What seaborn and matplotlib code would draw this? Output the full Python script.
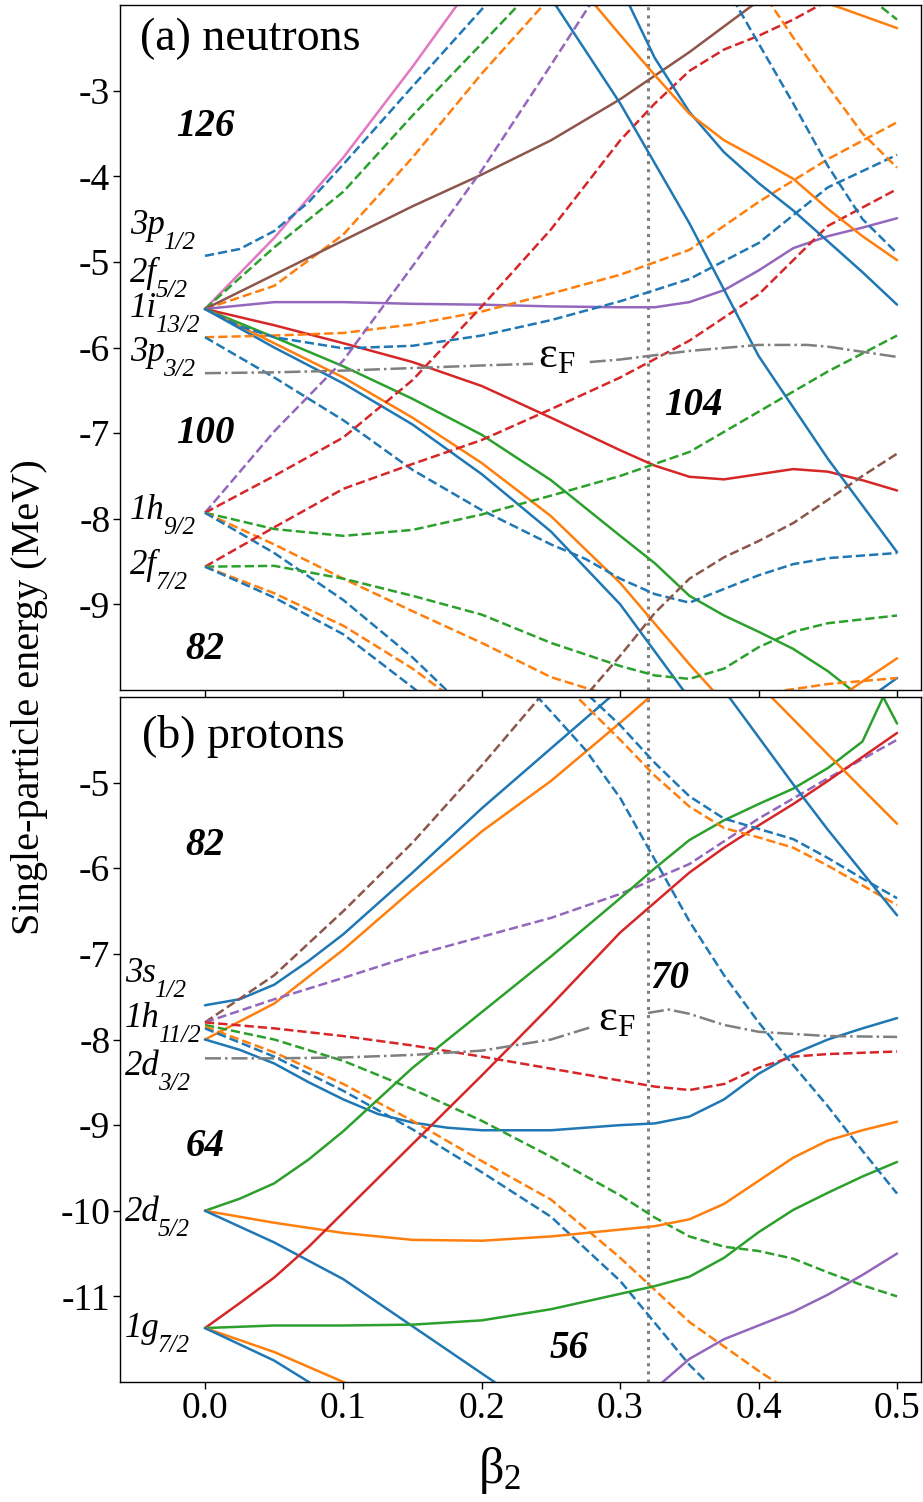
import matplotlib
matplotlib.use("Agg")
import matplotlib.pyplot as plt
import seaborn as sns

# ---------------- data: neutrons (panel a) ----------------
n_i_pink_b = [0, 0.05, 0.1, 0.15, 0.2]
n_i_pink_e = [-5.55, -4.72, -3.78, -2.72, -1.6]
n_p12_blue_b = [0, 0.025, 0.05, 0.075, 0.1, 0.15, 0.2, 0.25]
n_p12_blue_e = [-4.93, -4.85, -4.64, -4.3, -3.86, -2.95, -2.05, -1.1]
n_f52_green_b = [0, 0.05, 0.1, 0.15, 0.2, 0.25]
n_f52_green_e = [-5.55, -4.83, -4.18, -3.29, -2.45, -1.6]
n_f52_orange_b = [0, 0.05, 0.1, 0.15, 0.2, 0.25]
n_f52_orange_e = [-5.55, -5.28, -4.68, -3.78, -2.8, -1.9]
n_i_brown_b = [0, 0.05, 0.1, 0.15, 0.2, 0.25, 0.3, 0.35, 0.4]
n_i_brown_e = [-5.55, -5.15, -4.75, -4.35, -3.98, -3.58, -3.1, -2.55, -1.95]
n_i_purple_b = [0, 0.05, 0.1, 0.15, 0.2, 0.25, 0.3, 0.325, 0.35, 0.375, 0.4, 0.425, 0.45, 0.475, 0.5]
n_i_purple_e = [-5.55, -5.47, -5.47, -5.49, -5.5, -5.52, -5.53, -5.53, -5.47, -5.33, -5.1, -4.84, -4.7, -4.6, -4.49]
n_i_red_b = [0, 0.05, 0.1, 0.15, 0.2, 0.25, 0.3, 0.325, 0.35, 0.375, 0.4, 0.425, 0.45, 0.475, 0.5]
n_i_red_e = [-5.55, -5.74, -5.95, -6.17, -6.45, -6.82, -7.2, -7.38, -7.51, -7.54, -7.48, -7.42, -7.45, -7.55, -7.67]
n_i_green_b = [0, 0.05, 0.1, 0.15, 0.2, 0.25, 0.3, 0.325, 0.35, 0.375, 0.4, 0.425, 0.45, 0.475]
n_i_green_e = [-5.55, -5.88, -6.22, -6.6, -7.02, -7.55, -8.2, -8.52, -8.9, -9.13, -9.32, -9.52, -9.78, -10.1]
n_i_orange_b = [0, 0.05, 0.1, 0.15, 0.2, 0.25, 0.3, 0.35, 0.4]
n_i_orange_e = [-5.55, -5.95, -6.35, -6.82, -7.35, -7.97, -8.75, -9.7, -10.6]
n_i_blue_b = [0, 0.05, 0.1, 0.15, 0.2, 0.25, 0.3, 0.35]
n_i_blue_e = [-5.55, -6.0, -6.42, -6.9, -7.48, -8.15, -9.0, -10.1]
n_p32_orange_b = [0, 0.05, 0.1, 0.15, 0.2, 0.25, 0.3, 0.35, 0.4, 0.45, 0.5]
n_p32_orange_e = [-5.88, -5.86, -5.83, -5.73, -5.58, -5.37, -5.15, -4.86, -4.3, -3.8, -3.37]
n_p32_blue_b = [0, 0.05, 0.1, 0.15, 0.2, 0.25, 0.275, 0.3, 0.325, 0.35, 0.375, 0.4, 0.425, 0.45, 0.5]
n_p32_blue_e = [-5.88, -6.35, -6.85, -7.43, -7.9, -8.3, -8.47, -8.7, -8.88, -8.98, -8.82, -8.66, -8.53, -8.46, -8.4]
n_f52_blue_b = [0, 0.025, 0.05, 0.1, 0.15, 0.2, 0.25, 0.3, 0.35, 0.4, 0.45, 0.5]
n_f52_blue_e = [-5.55, -5.75, -5.88, -6.01, -5.98, -5.86, -5.68, -5.46, -5.2, -4.78, -4.13, -3.75]
n_h_purple_b = [0, 0.05, 0.1, 0.15, 0.2, 0.25, 0.3]
n_h_purple_e = [-7.93, -6.98, -6.15, -5.05, -3.93, -2.7, -1.45]
n_h_red_b = [0, 0.05, 0.1, 0.15, 0.2, 0.25, 0.3, 0.325, 0.35, 0.375, 0.4, 0.425, 0.45]
n_h_red_e = [-7.93, -7.5, -7.05, -6.38, -5.52, -4.62, -3.58, -3.15, -2.77, -2.52, -2.36, -2.17, -1.95]
n_h_green_b = [0, 0.05, 0.1, 0.15, 0.2, 0.25, 0.3, 0.35, 0.4, 0.45, 0.5]
n_h_green_e = [-7.93, -8.12, -8.2, -8.13, -7.95, -7.73, -7.5, -7.22, -6.75, -6.28, -5.86]
n_h_orange_b = [0, 0.05, 0.1, 0.15, 0.2, 0.25, 0.3]
n_h_orange_e = [-7.93, -8.3, -8.7, -9.08, -9.45, -9.85, -10.1]
n_h_blue_b = [0, 0.05, 0.1, 0.15, 0.2]
n_h_blue_e = [-7.93, -8.4, -8.95, -9.62, -10.4]
n_f72_red_b = [0, 0.05, 0.1, 0.15, 0.2, 0.25, 0.3, 0.35, 0.4, 0.45, 0.5]
n_f72_red_e = [-8.56, -8.1, -7.65, -7.36, -7.08, -6.72, -6.35, -5.92, -5.38, -4.58, -4.15]
n_f72_green_b = [0, 0.05, 0.1, 0.15, 0.2, 0.25, 0.3, 0.325, 0.35, 0.375, 0.4, 0.425, 0.45, 0.5]
n_f72_green_e = [-8.56, -8.55, -8.7, -8.9, -9.12, -9.45, -9.72, -9.83, -9.87, -9.75, -9.5, -9.32, -9.22, -9.13]
n_f72_orange_b = [0, 0.05, 0.1, 0.15, 0.2]
n_f72_orange_e = [-8.56, -8.87, -9.25, -9.75, -10.35]
n_f72_blue_b = [0, 0.05, 0.1, 0.15, 0.2]
n_f72_blue_e = [-8.56, -8.92, -9.35, -9.97, -10.6]
n_x_blue_steep_b = [0.2, 0.25, 0.3, 0.35, 0.4, 0.45, 0.5]
n_x_blue_steep_e = [-0.7, -1.92, -3.15, -4.55, -6.1, -7.3, -8.39]
n_x_blue_soft_b = [0.275, 0.3, 0.325, 0.35, 0.375, 0.4, 0.425, 0.45, 0.475, 0.5]
n_x_blue_soft_e = [-0.95, -1.78, -2.62, -3.25, -3.72, -4.08, -4.4, -4.76, -5.12, -5.5]
n_x_orange_a_b = [0.25, 0.275, 0.3, 0.325, 0.35, 0.375, 0.4, 0.425, 0.45, 0.475, 0.5]
n_x_orange_a_e = [-1.35, -1.87, -2.35, -2.82, -3.27, -3.58, -3.8, -4.03, -4.38, -4.7, -4.98]
n_x_orange_b_b = [0.4, 0.45, 0.5]
n_x_orange_b_e = [-1.72, -1.98, -2.27]
n_x_green_d_b = [0.45, 0.475, 0.5]
n_x_green_d_e = [-1.6, -1.85, -2.17]
n_x_orange_d_b = [0.375, 0.4, 0.425, 0.45, 0.475, 0.5]
n_x_orange_d_e = [-1.2, -1.78, -2.38, -2.95, -3.5, -3.9]
n_x_blue_d_b = [0.35, 0.375, 0.4, 0.425, 0.45, 0.475, 0.5]
n_x_blue_d_e = [-1.15, -1.75, -2.45, -3.15, -3.88, -4.5, -4.9]
n_x_brown_d_b = [0.25, 0.275, 0.3, 0.325, 0.35, 0.375, 0.4, 0.425, 0.45, 0.475, 0.5]
n_x_brown_d_e = [-10.45, -10.07, -9.6, -9.1, -8.7, -8.45, -8.26, -8.05, -7.78, -7.5, -7.24]
n_x_orange_br_b = [0.45, 0.475, 0.5]
n_x_orange_br_e = [-10.18, -9.9, -9.63]
n_x_blue_br_b = [0.475, 0.5]
n_x_blue_br_e = [-10.15, -9.86]
n_x_orange_dbr_b = [0.4, 0.45, 0.5]
n_x_orange_dbr_e = [-10.05, -9.93, -9.86]
n_fermi1_b = [0, 0.05, 0.1, 0.15, 0.2, 0.237]
n_fermi1_e = [-6.30, -6.29, -6.27, -6.24, -6.21, -6.19]
n_fermi2_b = [0.278, 0.3, 0.32, 0.35, 0.4, 0.435, 0.45, 0.5]
n_fermi2_e = [-6.17, -6.14, -6.10, -6.04, -5.97, -5.97, -5.99, -6.11]

# ---------------- data: protons (panel b) ----------------
p_s_blue_b = [0, 0.025, 0.05, 0.075, 0.1, 0.15, 0.2, 0.25, 0.3]
p_s_blue_e = [-7.60, -7.53, -7.36, -7.08, -6.77, -6.05, -5.3, -4.6, -3.9]
p_d32_orange_b = [0, 0.05, 0.1, 0.15, 0.2, 0.25, 0.3, 0.35]
p_d32_orange_e = [-8.0, -7.58, -6.95, -6.25, -5.57, -4.98, -4.3, -3.6]
p_d32_blue_b = [0, 0.025, 0.05, 0.075, 0.1, 0.125, 0.15, 0.175, 0.2, 0.25, 0.3, 0.325, 0.35, 0.375, 0.4, 0.425, 0.45, 0.475, 0.5]
p_d32_blue_e = [-8.0, -8.12, -8.28, -8.5, -8.7, -8.87, -8.97, -9.03, -9.06, -9.06, -9.0, -8.98, -8.9, -8.7, -8.4, -8.17, -8.0, -7.87, -7.75]
p_h_brown_b = [0, 0.05, 0.1, 0.15, 0.2, 0.25]
p_h_brown_e = [-7.8, -7.25, -6.5, -5.7, -4.8, -3.85]
p_h_purple_b = [0, 0.05, 0.1, 0.15, 0.2, 0.25, 0.3, 0.35, 0.4, 0.45, 0.5]
p_h_purple_e = [-7.8, -7.53, -7.28, -7.02, -6.8, -6.58, -6.3, -5.95, -5.42, -4.95, -4.5]
p_h_red_b = [0, 0.05, 0.1, 0.15, 0.2, 0.25, 0.3, 0.325, 0.35, 0.375, 0.4, 0.425, 0.45, 0.5]
p_h_red_e = [-7.8, -7.87, -7.96, -8.07, -8.2, -8.34, -8.48, -8.55, -8.59, -8.52, -8.33, -8.2, -8.17, -8.14]
p_h_green_b = [0, 0.05, 0.1, 0.15, 0.2, 0.25, 0.3, 0.325, 0.35, 0.375, 0.4, 0.425, 0.45, 0.475, 0.5]
p_h_green_e = [-7.83, -8.0, -8.25, -8.58, -8.95, -9.37, -9.82, -10.08, -10.3, -10.42, -10.47, -10.56, -10.72, -10.87, -11.0]
p_h_orange_b = [0, 0.05, 0.1, 0.15, 0.2, 0.25, 0.3, 0.35, 0.4, 0.45]
p_h_orange_e = [-7.85, -8.15, -8.52, -8.95, -9.42, -9.87, -10.55, -11.3, -11.87, -12.4]
p_h_blue_b = [0, 0.05, 0.1, 0.15, 0.2, 0.25, 0.3, 0.35, 0.4]
p_h_blue_e = [-7.87, -8.2, -8.6, -9.05, -9.55, -10.07, -10.82, -11.8, -12.6]
p_d52_green_b = [0, 0.025, 0.05, 0.075, 0.1, 0.15, 0.2, 0.25, 0.3, 0.325, 0.35, 0.375, 0.4, 0.425, 0.45, 0.475, 0.49, 0.5]
p_d52_green_e = [-10.0, -9.86, -9.68, -9.4, -9.07, -8.33, -7.68, -7.03, -6.35, -6.0, -5.67, -5.44, -5.25, -5.07, -4.83, -4.52, -4.0, -4.31]
p_d52_orange_b = [0, 0.05, 0.1, 0.15, 0.2, 0.25, 0.3, 0.325, 0.35, 0.375, 0.4, 0.425, 0.45, 0.475, 0.5]
p_d52_orange_e = [-10.0, -10.14, -10.26, -10.34, -10.35, -10.3, -10.22, -10.18, -10.1, -9.92, -9.65, -9.38, -9.18, -9.06, -8.96]
p_d52_blue_b = [0, 0.05, 0.1, 0.15, 0.2, 0.25]
p_d52_blue_e = [-10.0, -10.37, -10.8, -11.35, -11.9, -12.45]
p_g_red_b = [0, 0.025, 0.05, 0.075, 0.1, 0.15, 0.2, 0.25, 0.3, 0.325, 0.35, 0.375, 0.4, 0.425, 0.45, 0.475, 0.5]
p_g_red_e = [-11.37, -11.08, -10.78, -10.42, -10.02, -9.22, -8.42, -7.6, -6.75, -6.4, -6.05, -5.76, -5.5, -5.25, -4.98, -4.7, -4.42]
p_g_green_b = [0, 0.05, 0.1, 0.15, 0.2, 0.25, 0.3, 0.325, 0.35, 0.375, 0.4, 0.425, 0.45, 0.475, 0.5]
p_g_green_e = [-11.37, -11.34, -11.34, -11.33, -11.28, -11.15, -10.97, -10.88, -10.77, -10.55, -10.25, -9.99, -9.79, -9.6, -9.43]
p_g_orange_b = [0, 0.05, 0.1, 0.15]
p_g_orange_e = [-11.37, -11.65, -12.0, -12.4]
p_g_blue_b = [0, 0.05, 0.1]
p_g_blue_e = [-11.37, -11.75, -12.25]
p_x_blue_d1_b = [0.2, 0.25, 0.275, 0.3, 0.325, 0.35, 0.375, 0.4, 0.425, 0.45, 0.475, 0.5]
p_x_blue_d1_e = [-3.3, -4.17, -4.62, -5.18, -5.9, -6.62, -7.25, -7.8, -8.3, -8.78, -9.3, -9.8]
p_x_blue_d2_b = [0.25, 0.275, 0.3, 0.325, 0.35, 0.375, 0.4, 0.425, 0.45, 0.475, 0.5]
p_x_blue_d2_e = [-3.55, -3.95, -4.33, -4.77, -5.16, -5.42, -5.54, -5.66, -5.88, -6.12, -6.35]
p_x_orange_d2_b = [0.25, 0.275, 0.3, 0.325, 0.35, 0.375, 0.4, 0.425, 0.45, 0.475, 0.5]
p_x_orange_d2_e = [-3.7, -4.1, -4.5, -4.92, -5.28, -5.53, -5.64, -5.76, -5.97, -6.2, -6.43]
p_x_blue_s_b = [0.35, 0.375, 0.4, 0.425, 0.45, 0.475, 0.5]
p_x_blue_s_e = [-3.38, -3.92, -4.47, -5.02, -5.55, -6.05, -6.55]
p_x_orange_s_b = [0.4, 0.45, 0.5]
p_x_orange_s_e = [-3.85, -4.67, -5.48]
p_x_purple_b = [0.3, 0.325, 0.35, 0.375, 0.4, 0.425, 0.45, 0.475, 0.5]
p_x_purple_e = [-12.45, -12.08, -11.73, -11.5, -11.34, -11.18, -10.98, -10.75, -10.5]
p_fermi1_b = [0, 0.05, 0.1, 0.15, 0.2, 0.25, 0.278]
p_fermi1_e = [-8.22, -8.22, -8.21, -8.18, -8.13, -8.0, -7.86]
p_fermi2_b = [0.32, 0.335, 0.35, 0.375, 0.4, 0.45, 0.5]
p_fermi2_e = [-7.69, -7.65, -7.7, -7.83, -7.91, -7.96, -7.97]

# labels
n_levels = ["3p", "2f", "1i", "3p", "1h", "2f"]
n_level_j = ["1/2", "5/2", "13/2", "3/2", "9/2", "7/2"]
n_level_y = [-4.68, -5.24, -5.64, -6.16, -8.0, -8.65]
p_levels = ["3s", "1h", "2d", "2d", "1g"]
p_level_j = ["1/2", "11/2", "3/2", "5/2", "7/2"]
p_level_y = [-7.33, -7.85, -8.42, -10.12, -11.48]
n_magic = ["126", "100", "82", "104"]
n_magic_x = [0.0, 0.0, 0.0, 0.3526]
n_magic_y = [-3.53, -7.11, -9.64, -6.79]
p_magic = ["82", "64", "70", "56"]
p_magic_x = [0.0, 0.0, 0.336, 0.263]
p_magic_y = [-5.85, -9.36, -7.40, -11.72]
beta_ticks = [0.0, 0.1, 0.2, 0.3, 0.4, 0.5]
n_yticks = [-3, -4, -5, -6, -7, -8, -9]
p_yticks = [-5, -6, -7, -8, -9, -10, -11]
beta_fermi_line = 0.32

# ---------------- style ----------------
sns.set_theme(style="ticks")
plt.rcParams["font.family"] = ["Liberation Serif", "DejaVu Serif"]
plt.rcParams["mathtext.fontset"] = "custom"
plt.rcParams["mathtext.rm"] = "Liberation Serif"
plt.rcParams["mathtext.it"] = "Liberation Serif:italic"
plt.rcParams["mathtext.bf"] = "Liberation Serif:bold"
plt.rcParams["axes.unicode_minus"] = False
for k in ("text.color", "axes.labelcolor", "xtick.color", "ytick.color", "axes.edgecolor"):
    plt.rcParams[k] = "black"

C = sns.color_palette("tab10")
blue, orange, green, red, purple, brown, pink, grey = C[0], C[1], C[2], C[3], C[4], C[5], C[6], C[7]

neutron_curves = [
    (n_i_pink_b, n_i_pink_e, pink, "-"),
    (n_p12_blue_b, n_p12_blue_e, blue, "--"),
    (n_f52_green_b, n_f52_green_e, green, "--"),
    (n_f52_orange_b, n_f52_orange_e, orange, "--"),
    (n_i_brown_b, n_i_brown_e, brown, "-"),
    (n_i_purple_b, n_i_purple_e, purple, "-"),
    (n_i_red_b, n_i_red_e, red, "-"),
    (n_i_green_b, n_i_green_e, green, "-"),
    (n_i_orange_b, n_i_orange_e, orange, "-"),
    (n_i_blue_b, n_i_blue_e, blue, "-"),
    (n_p32_orange_b, n_p32_orange_e, orange, "--"),
    (n_p32_blue_b, n_p32_blue_e, blue, "--"),
    (n_f52_blue_b, n_f52_blue_e, blue, "--"),
    (n_h_purple_b, n_h_purple_e, purple, "--"),
    (n_h_red_b, n_h_red_e, red, "--"),
    (n_h_green_b, n_h_green_e, green, "--"),
    (n_h_orange_b, n_h_orange_e, orange, "--"),
    (n_h_blue_b, n_h_blue_e, blue, "--"),
    (n_f72_red_b, n_f72_red_e, red, "--"),
    (n_f72_green_b, n_f72_green_e, green, "--"),
    (n_f72_orange_b, n_f72_orange_e, orange, "--"),
    (n_f72_blue_b, n_f72_blue_e, blue, "--"),
    (n_x_blue_steep_b, n_x_blue_steep_e, blue, "-"),
    (n_x_blue_soft_b, n_x_blue_soft_e, blue, "-"),
    (n_x_orange_a_b, n_x_orange_a_e, orange, "-"),
    (n_x_orange_b_b, n_x_orange_b_e, orange, "-"),
    (n_x_green_d_b, n_x_green_d_e, green, "--"),
    (n_x_orange_d_b, n_x_orange_d_e, orange, "--"),
    (n_x_blue_d_b, n_x_blue_d_e, blue, "--"),
    (n_x_brown_d_b, n_x_brown_d_e, brown, "--"),
    (n_x_orange_br_b, n_x_orange_br_e, orange, "-"),
    (n_x_blue_br_b, n_x_blue_br_e, blue, "-"),
    (n_x_orange_dbr_b, n_x_orange_dbr_e, orange, "--"),
    (n_fermi1_b, n_fermi1_e, grey, "-."),
    (n_fermi2_b, n_fermi2_e, grey, "-."),
]
proton_curves = [
    (p_s_blue_b, p_s_blue_e, blue, "-"),
    (p_d32_orange_b, p_d32_orange_e, orange, "-"),
    (p_d32_blue_b, p_d32_blue_e, blue, "-"),
    (p_h_brown_b, p_h_brown_e, brown, "--"),
    (p_h_purple_b, p_h_purple_e, purple, "--"),
    (p_h_red_b, p_h_red_e, red, "--"),
    (p_h_green_b, p_h_green_e, green, "--"),
    (p_h_orange_b, p_h_orange_e, orange, "--"),
    (p_h_blue_b, p_h_blue_e, blue, "--"),
    (p_d52_green_b, p_d52_green_e, green, "-"),
    (p_d52_orange_b, p_d52_orange_e, orange, "-"),
    (p_d52_blue_b, p_d52_blue_e, blue, "-"),
    (p_g_red_b, p_g_red_e, red, "-"),
    (p_g_green_b, p_g_green_e, green, "-"),
    (p_g_orange_b, p_g_orange_e, orange, "-"),
    (p_g_blue_b, p_g_blue_e, blue, "-"),
    (p_x_blue_d1_b, p_x_blue_d1_e, blue, "--"),
    (p_x_blue_d2_b, p_x_blue_d2_e, blue, "--"),
    (p_x_orange_d2_b, p_x_orange_d2_e, orange, "--"),
    (p_x_blue_s_b, p_x_blue_s_e, blue, "-"),
    (p_x_orange_s_b, p_x_orange_s_e, orange, "-"),
    (p_x_purple_b, p_x_purple_e, purple, "-"),
    (p_fermi1_b, p_fermi1_e, grey, "-."),
    (p_fermi2_b, p_fermi2_e, grey, "-."),
]

W, H = 923, 1502
fig = plt.figure(figsize=(W / 100, H / 100), dpi=100)
ax1 = fig.add_axes([120 / W, 1 - 690 / H, 801 / W, 685 / H])
ax2 = fig.add_axes([120 / W, 1 - 1382 / H, 801 / W, 685 / H])

LW = 1.8
for ax, curves in ((ax1, neutron_curves), (ax2, proton_curves)):
    for b, e, c, ls in curves:
        sns.lineplot(x=b, y=e, ax=ax, color=c, linestyle=ls, linewidth=LW,
                     sort=False, estimator=None, legend=False)
    ax.axvline(beta_fermi_line, color=grey, linestyle=":", linewidth=2.2, zorder=1)
    ax.set_xlim(-0.0614, 0.5173)
    ax.set_xticks(beta_ticks)
    ax.set_xticklabels([f"{t:.1f}" for t in beta_ticks])
    ax.tick_params(direction="out", length=5, width=1.0, labelsize=27, pad=2,
                   colors="black")
    for s in ax.spines.values():
        s.set_linewidth(1.0)
        s.set_color("black")
    ax.set_xlabel("")
    ax.set_ylabel("")

ax1.set_ylim(-10, -2)
ax1.set_yticks(n_yticks)
ax1.set_yticklabels([str(t) for t in n_yticks])
ax1.tick_params(labelbottom=False)
ax2.set_ylim(-12, -4)
ax2.set_yticks(p_yticks)
ax2.set_yticklabels([str(t) for t in p_yticks])


def level_label(ax, x, y, main, sub):
    t = ax.text(x, y, main, fontsize=25, fontstyle="italic", ha="left",
                va="baseline")
    ax.annotate(sub, xy=(1, 0), xycoords=t, xytext=(-1.5, -5.0),
                textcoords="offset points", fontsize=18, fontstyle="italic",
                ha="left", va="baseline")


for lab, j, y in zip(n_levels, n_level_j, n_level_y):
    level_label(ax1, -0.054, y, lab, j)
for lab, j, y in zip(p_levels, p_level_j, p_level_y):
    level_label(ax2, -0.0578, y, lab, j)

# magic numbers
for t, x, y in zip(n_magic, n_magic_x, n_magic_y):
    ax1.text(x, y, t, fontsize=28, fontweight="bold", fontstyle="italic",
             ha="center", va="baseline")
for t, x, y in zip(p_magic, p_magic_x, p_magic_y):
    ax2.text(x, y, t, fontsize=28, fontweight="bold", fontstyle="italic",
             ha="center", va="baseline")

# Fermi labels
ax1.text(0.2406, -6.23, r"$\mathrm{\varepsilon}_{\mathrm{F}}$", fontsize=32,
         ha="left", va="baseline")
ax2.text(0.284, -7.89, r"$\mathrm{\varepsilon}_{\mathrm{F}}$", fontsize=32,
         ha="left", va="baseline")

# panel titles
ax1.text(0.025, 0.95, "(a) neutrons", transform=ax1.transAxes, fontsize=33,
         ha="left", va="center")
ax2.text(0.028, 0.942, "(b) protons", transform=ax2.transAxes, fontsize=33,
         ha="left", va="center")

# axis labels
fig.text(30 / W, 1 - 697 / H, "Single-particle energy (MeV)", rotation=90,
         fontsize=29, ha="center", va="center")
fig.text(500 / W, 1 - 1470 / H, r"$\mathrm{\beta}_{\mathrm{2}}$", fontsize=36,
         ha="center", va="center")

fig.savefig("out.png", dpi=100)
